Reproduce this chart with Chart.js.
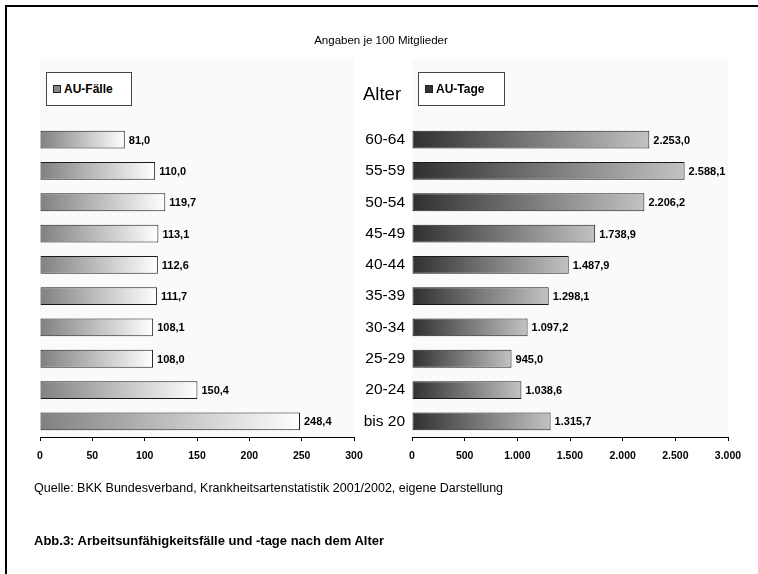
<!DOCTYPE html>
<html lang="de">
<head>
<meta charset="utf-8">
<title>Arbeitsunfähigkeitsfälle und -tage nach dem Alter</title>
<script src="https://cdn.jsdelivr.net/npm/chart.js@4/dist/chart.umd.min.js"></script>
<style>
  html, body { margin: 0; padding: 0; background: #fff; }
  #page { position: relative; width: 758px; height: 574px; overflow: hidden;
          font-family: "Liberation Sans", Arial, sans-serif; color: #000; }
  #frame { position: absolute; left: 5px; top: 5px; right: -10px; bottom: -10px;
           border-left: 2px solid #000; border-top: 2px solid #000; }
  canvas { position: absolute; left: 0; top: 0; }
  .txt { position: absolute; white-space: nowrap; line-height: 1; }
  .legend { position: absolute; top: 72px; height: 34px; box-sizing: border-box;
            background: #fff; border: 1px solid #444; font-weight: bold; font-size: 12px;
            display: flex; align-items: center; padding-left: 6px; }
  .legend i { display: inline-block; width: 6px; height: 6px; border: 1px solid #222; margin-right: 3px; }
</style>
</head>
<body>
<div id="page">
  <div id="frame"></div>
  <canvas id="cFaelle" width="758" height="574"></canvas>
  <canvas id="cTage" width="758" height="574"></canvas>

  <div class="txt" style="left:231px; width:300px; top:35px; text-align:center; font-size:11.5px;">Angaben je 100 Mitglieder</div>
  <div class="legend" style="left:46px; width:86px;"><i style="background:#888;"></i>AU-Fälle</div>
  <div class="txt" style="left:363px; top:85px; font-size:18.5px;">Alter</div>
  <div class="legend" style="left:418px; width:87px;"><i style="background:#333;"></i>AU-Tage</div>

  <div class="txt" style="left:34px; top:482px; font-size:12.5px;">Quelle: BKK Bundesverband, Krankheitsartenstatistik 2001/2002, eigene Darstellung</div>
  <div class="txt" style="left:34px; top:534px; font-size:13px; font-weight:bold;">Abb.3: Arbeitsunfähigkeitsfälle und -tage nach dem Alter</div>
</div>

<script>
// Altersgruppen, von oben nach unten
const ageGroups = ['60-64', '55-59', '50-54', '45-49', '40-44', '35-39', '30-34', '25-29', '20-24', 'bis 20'];
// AU-Fälle je 100 Mitglieder
const auFaelle = [81.0, 110.0, 119.7, 113.1, 112.6, 111.7, 108.1, 108.0, 150.4, 248.4];
// AU-Tage je 100 Mitglieder
const auTage = [2253.0, 2588.1, 2206.2, 1738.9, 1487.9, 1298.1, 1097.2, 945.0, 1038.6, 1315.7];
// Achsenteilung
const faelleAxis = { min: 0, max: 300, step: 50 };
const tageAxis = { min: 0, max: 3000, step: 500 };

const FONT = '"Liberation Sans", Arial, sans-serif';

// Zahl im deutschen Format: Tausenderpunkt, Dezimalkomma
function fmtDE(v, dec) {
  const parts = Number(v).toFixed(dec).split('.');
  const intPart = parts[0].replace(/\B(?=(\d{3})+(?!\d))/g, '.');
  return parts.length > 1 ? intPart + ',' + parts[1] : intPart;
}

// hellgrauer Hintergrund der Zeichenfläche, reicht bis unter die Legende
const plotBackground = {
  id: 'plotBackground',
  beforeDraw(chart, args, opts) {
    const { ctx, chartArea } = chart;
    ctx.save();
    ctx.fillStyle = opts.color;
    ctx.fillRect(chartArea.left, opts.top, chartArea.right - chartArea.left, chartArea.bottom - opts.top);
    ctx.restore();
  }
};

// Werte rechts neben den Balken
const valueLabels = {
  id: 'valueLabels',
  afterDatasetsDraw(chart) {
    const { ctx } = chart;
    const ds = chart.data.datasets[0];
    const meta = chart.getDatasetMeta(0);
    ctx.save();
    ctx.font = 'bold 11px ' + FONT;
    ctx.fillStyle = '#000';
    ctx.textBaseline = 'middle';
    ctx.textAlign = 'left';
    meta.data.forEach((bar, i) => {
      ctx.fillText(fmtDE(ds.data[i], 1), bar.x + 4, bar.y + 1);
    });
    ctx.restore();
  }
};

function barGradient(fromColor, toColor) {
  return (c) => {
    const chart = c.chart;
    if (c.type !== 'data' || !chart.chartArea) return fromColor;
    const xs = chart.scales.x;
    const x0 = xs.getPixelForValue(0);
    const x1 = xs.getPixelForValue(c.raw);
    const g = chart.ctx.createLinearGradient(x0, 0, Math.max(x1, x0 + 1), 0);
    g.addColorStop(0, fromColor);
    g.addColorStop(1, toColor);
    return g;
  };
}

function makeChart(id, values, axis, colors, pad, showAges) {
  return new Chart(document.getElementById(id), {
    type: 'bar',
    data: {
      labels: ageGroups,
      datasets: [{
        data: values,
        backgroundColor: barGradient(colors[0], colors[1]),
        borderColor: '#1a1a1a',
        borderWidth: 1,
        borderSkipped: false,
        categoryPercentage: 1,
        barPercentage: 0.57
      }]
    },
    options: {
      indexAxis: 'y',
      responsive: false,
      animation: false,
      devicePixelRatio: 1,
      layout: { padding: pad },
      plugins: {
        legend: { display: false },
        tooltip: { enabled: false },
        plotBackground: { color: '#fafafa', top: 59 }
      },
      scales: {
        x: {
          type: 'linear',
          min: axis.min,
          max: axis.max,
          ticks: {
            stepSize: axis.step,
            autoSkip: false,
            maxRotation: 0,
            color: '#000',
            padding: 9,
            font: { family: FONT, size: 10.5, weight: 'bold' },
            callback: (v) => fmtDE(v, 0)
          },
          grid: { drawOnChartArea: false, drawTicks: true, tickLength: 4, color: '#000' },
          border: { display: true, color: '#000', width: 1 },
          afterFit(s) { s.height = 36; }
        },
        y: {
          type: 'category',
          offset: true,
          display: showAges,
          ticks: { color: '#000', padding: 7, font: { family: FONT, size: 15.5 } },
          grid: { display: false, drawTicks: false },
          border: { display: false },
          afterFit(s) { s.width = showAges ? 82 : 0; }
        }
      }
    },
    plugins: [plotBackground, valueLabels]
  });
}

makeChart('cFaelle', auFaelle, faelleAxis, ['#808080', '#ffffff'],
          { left: 40, right: 404, top: 124, bottom: 101 }, false);
makeChart('cTage', auTage, tageAxis, ['#303030', '#c2c2c2'],
          { left: 330, right: 30, top: 124, bottom: 101 }, true);
</script>
</body>
</html>
